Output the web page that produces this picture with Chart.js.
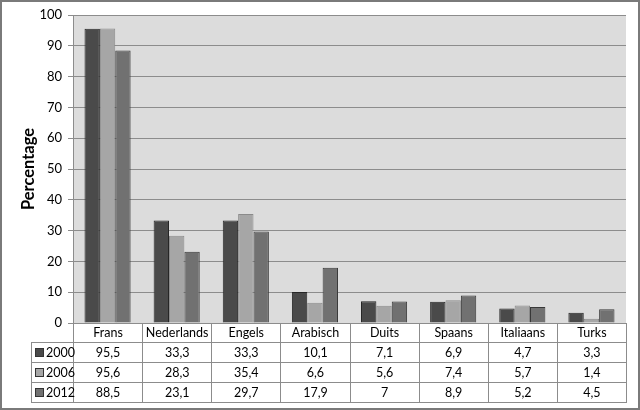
<!DOCTYPE html>
<html>
<head>
<meta charset="utf-8">
<script src="https://cdn.jsdelivr.net/npm/chart.js@4"></script>
<style>
  html, body { margin: 0; padding: 0; background: #fff; }
  #wrap { position: relative; width: 640px; height: 410px; overflow: hidden; }
  #wrap canvas { position: absolute; left: 0; top: 0; }
  #frame { position: absolute; left: 0; top: 0; width: 640px; height: 410px; box-sizing: border-box;
           border: 2px solid #7a7a7a; pointer-events: none; }
  #dataTable { position: absolute; border-collapse: collapse; table-layout: fixed;
               font-family: Lato, "Open Sans", sans-serif; font-size: 12.5px; color: #000; }
  #dataTable td { border: 1px solid #8c8c8c; text-align: center; padding: 0; height: 19px; white-space: nowrap; }
  #dataTable td.key { text-align: left; padding-left: 3px; }
  .swatch { display: inline-block; width: 7px; height: 7px; border: 1px solid #333; margin-right: 2px; vertical-align: 0px; }
</style>
</head>
<body>
<div id="wrap">
  <canvas id="miCanvas" width="640" height="410"></canvas>
  <div id="frame"></div>
</div>
<script>
const categories = ["Frans", "Nederlands", "Engels", "Arabisch", "Duits", "Spaans", "Italiaans", "Turks"];
const years = ["2000", "2006", "2012"];
const values2000 = [95.5, 33.3, 33.3, 10.1, 7.1, 6.9, 4.7, 3.3];
const values2006 = [95.6, 28.3, 35.4, 6.6, 5.6, 7.4, 5.7, 1.4];
const values2012 = [88.5, 23.1, 29.7, 17.9, 7, 8.9, 5.2, 4.5];
const yMin = 0;
const yMax = 100;
const yStep = 10;

const fillColors = ["#4a4a4a", "#a6a6a6", "#717171"];
const edgeColors = ["#262626", "#8a8a8a", "#383838"];
const seriesValues = [values2000, values2006, values2012];

// grijze achtergrond van het plotgebied
const plotBackground = {
    id: "plotBackground",
    beforeDraw: (chart) => {
        const { ctx, chartArea } = chart;
        ctx.save();
        ctx.fillStyle = "#dcdcdc";
        ctx.fillRect(chartArea.left, chartArea.top, chartArea.right - chartArea.left, chartArea.bottom - chartArea.top);
        ctx.restore();
    }
};

const ctx = document.getElementById("miCanvas").getContext("2d");
const chart = new Chart(ctx, {
    type: "bar",
    data: {
        labels: categories,
        datasets: years.map((year, i) => ({
            label: year,
            data: seriesValues[i],
            backgroundColor: fillColors[i],
            borderColor: edgeColors[i],
            borderWidth: 1,
            categoryPercentage: 0.667,
            barPercentage: 1
        }))
    },
    options: {
        responsive: false,
        animation: false,
        devicePixelRatio: 1,
        layout: { padding: { left: 15, top: 15, right: 14, bottom: 87 } },
        plugins: {
            legend: { display: false },
            tooltip: { enabled: false }
        },
        scales: {
            x: { display: false },
            y: {
                min: yMin,
                max: yMax,
                afterFit: (axis) => { axis.width = 58; },
                ticks: {
                    stepSize: yStep,
                    padding: 6,
                    color: "#000",
                    font: { family: "Lato, 'Open Sans', sans-serif", size: 13 }
                },
                grid: { color: "#8c8c8c", tickLength: 5, lineWidth: 1 },
                border: { color: "#8c8c8c" },
                title: {
                    display: true,
                    text: "Percentage",
                    color: "#000",
                    padding: { top: 4, bottom: 4 },
                    font: { family: "Lato, 'Open Sans', sans-serif", size: 16.5, weight: "bold" }
                }
            }
        }
    },
    plugins: [plotBackground]
});

// gegevenstabel onder de grafiek
const area = chart.chartArea;
const tableLeft = 31;
const colWidth = (area.right - area.left) / categories.length;
const table = document.createElement("table");
table.id = "dataTable";
table.style.left = tableLeft + "px";
table.style.top = Math.round(area.bottom) + "px";

const colgroup = document.createElement("colgroup");
const firstCol = document.createElement("col");
firstCol.style.width = (area.left - tableLeft) + "px";
colgroup.appendChild(firstCol);
categories.forEach(() => {
    const c = document.createElement("col");
    c.style.width = colWidth + "px";
    colgroup.appendChild(c);
});
table.appendChild(colgroup);
table.style.width = (area.right - tableLeft) + "px";

const headRow = document.createElement("tr");
const corner = document.createElement("td");
corner.style.borderTop = "none";
corner.style.borderLeft = "none";
headRow.appendChild(corner);
categories.forEach((cat) => {
    const td = document.createElement("td");
    td.style.borderTop = "none";
    td.textContent = cat;
    headRow.appendChild(td);
});
table.appendChild(headRow);

years.forEach((year, i) => {
    const tr = document.createElement("tr");
    const key = document.createElement("td");
    key.className = "key";
    const sw = document.createElement("span");
    sw.className = "swatch";
    sw.style.background = fillColors[i];
    key.appendChild(sw);
    key.appendChild(document.createTextNode(year));
    tr.appendChild(key);
    seriesValues[i].forEach((v) => {
        const td = document.createElement("td");
        td.textContent = String(v).replace(".", ",");
        tr.appendChild(td);
    });
    table.appendChild(tr);
});
document.getElementById("wrap").insertBefore(table, document.getElementById("frame"));
</script>
</body>
</html>
